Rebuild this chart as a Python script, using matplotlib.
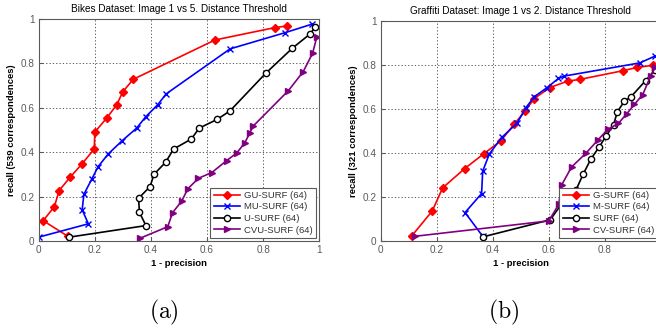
import matplotlib
matplotlib.use("Agg")
import matplotlib.pyplot as plt

plt.rcParams["font.family"] = ["Liberation Sans", "DejaVu Sans"]

# (a) Bikes dataset, image 1 vs 5
bikes_gu_x = [0.105, 0.016, 0.056, 0.073, 0.112, 0.153, 0.198, 0.200, 0.242, 0.278, 0.300, 0.337, 0.628, 0.842, 0.884]
bikes_gu_y = [0.020, 0.091, 0.155, 0.227, 0.287, 0.345, 0.414, 0.490, 0.553, 0.613, 0.672, 0.728, 0.905, 0.961, 0.968]
bikes_mu_x = [0.000, 0.177, 0.155, 0.161, 0.189, 0.212, 0.248, 0.298, 0.349, 0.382, 0.424, 0.454, 0.682, 0.878, 0.973]
bikes_mu_y = [0.017, 0.077, 0.140, 0.210, 0.278, 0.335, 0.392, 0.452, 0.508, 0.560, 0.613, 0.662, 0.865, 0.938, 0.976]
bikes_u_x = [0.109, 0.382, 0.359, 0.356, 0.397, 0.411, 0.452, 0.481, 0.544, 0.572, 0.637, 0.682, 0.809, 0.904, 0.967, 0.985]
bikes_u_y = [0.017, 0.069, 0.129, 0.192, 0.245, 0.300, 0.354, 0.414, 0.459, 0.508, 0.548, 0.586, 0.755, 0.868, 0.932, 0.962]
bikes_cvu_x = [0.361, 0.460, 0.477, 0.510, 0.531, 0.569, 0.617, 0.670, 0.706, 0.735, 0.753, 0.765, 0.890, 0.943, 0.976, 0.991]
bikes_cvu_y = [0.012, 0.064, 0.127, 0.180, 0.234, 0.282, 0.308, 0.362, 0.396, 0.443, 0.488, 0.518, 0.677, 0.763, 0.845, 0.917]

# (b) Graffiti dataset, image 1 vs 2
graf_g_x = [0.111, 0.184, 0.221, 0.300, 0.367, 0.429, 0.476, 0.515, 0.548, 0.604, 0.667, 0.711, 0.863, 0.914, 0.972, 0.995]
graf_g_y = [0.023, 0.136, 0.241, 0.329, 0.395, 0.455, 0.530, 0.590, 0.647, 0.697, 0.726, 0.734, 0.773, 0.788, 0.798, 0.802]
graf_m_x = [0.364, 0.301, 0.360, 0.364, 0.388, 0.432, 0.487, 0.518, 0.548, 0.594, 0.634, 0.655, 0.925, 0.979]
graf_m_y = [0.021, 0.129, 0.215, 0.317, 0.396, 0.470, 0.536, 0.605, 0.655, 0.697, 0.738, 0.749, 0.809, 0.840]
graf_s_x = [0.364, 0.605, 0.645, 0.697, 0.723, 0.750, 0.780, 0.804, 0.831, 0.844, 0.869, 0.893, 0.945, 0.978, 0.995]
graf_s_y = [0.018, 0.096, 0.167, 0.232, 0.305, 0.372, 0.428, 0.476, 0.528, 0.586, 0.634, 0.655, 0.728, 0.776, 0.810]
graf_cv_x = [0.122, 0.600, 0.635, 0.646, 0.681, 0.732, 0.776, 0.810, 0.848, 0.878, 0.905, 0.935, 0.963, 0.980]
graf_cv_y = [0.021, 0.091, 0.166, 0.255, 0.336, 0.398, 0.460, 0.507, 0.534, 0.578, 0.620, 0.665, 0.749, 0.790]

ticks = [0, 0.2, 0.4, 0.6, 0.8, 1]
tick_labels = ["0", "0.2", "0.4", "0.6", "0.8", "1"]

RED, BLUE, BLACK, PURPLE = "#ff0000", "#0000ff", "#000000", "#800080"
GREY = "#5a5a5a"


def draw_panel(ax, series, title, ylabel, xlabels):
    for x, y, color, marker, label in series:
        face = "white" if marker == "o" else color
        ax.plot(x, y, color=color, lw=1.2, marker=marker, ms=4.5,
                mfc=face, mec=color, mew=1.0, label=label)
    ax.set_xlim(0, 1)
    ax.set_ylim(0, 1)
    ax.set_xticks(ticks)
    ax.set_xticklabels(xlabels)
    ax.set_yticks(ticks)
    ax.set_yticklabels(tick_labels)
    ax.grid(True, ls=(0, (1.5, 2.5)), color="#404040", lw=0.6)
    ax.tick_params(direction="in", length=3, labelsize=7.2, colors=GREY, pad=3)
    for s in ax.spines.values():
        s.set_color(GREY)
        s.set_linewidth(0.8)
    ax.set_title(title, fontsize=7.2, pad=5)
    ax.set_xlabel("1 - precision", fontsize=6.8, fontweight="bold", labelpad=3)
    ax.set_ylabel(ylabel, fontsize=6.8, fontweight="bold", labelpad=3)
    leg = ax.legend(loc="lower right", fontsize=6.8, frameon=True, fancybox=False,
                    borderaxespad=0.3, handlelength=2.8, labelspacing=0.28,
                    borderpad=0.35, handletextpad=0.45, framealpha=1)
    leg.get_frame().set_edgecolor(GREY)
    leg.get_frame().set_linewidth(0.8)
    for t in leg.get_texts():
        t.set_color("#333333")


fig = plt.figure(figsize=(6.56, 3.36), dpi=100)
ax1 = fig.add_axes([0.059, 0.283, 0.4277, 0.6607])
ax2 = fig.add_axes([0.5803, 0.283, 0.4273, 0.655])

draw_panel(ax1, [
    (bikes_gu_x, bikes_gu_y, RED, "D", "GU-SURF (64)"),
    (bikes_mu_x, bikes_mu_y, BLUE, "x", "MU-SURF (64)"),
    (bikes_u_x, bikes_u_y, BLACK, "o", "U-SURF (64)"),
    (bikes_cvu_x, bikes_cvu_y, PURPLE, ">", "CVU-SURF (64)"),
], "Bikes Dataset: Image 1 vs 5. Distance Threshold", "recall (539 correspondences)", tick_labels)

# the right panel runs past the figure edge, so its "1" label is not shown
draw_panel(ax2, [
    (graf_g_x, graf_g_y, RED, "D", "G-SURF (64)"),
    (graf_m_x, graf_m_y, BLUE, "x", "M-SURF (64)"),
    (graf_s_x, graf_s_y, BLACK, "o", "SURF (64)"),
    (graf_cv_x, graf_cv_y, PURPLE, ">", "CV-SURF (64)"),
], "Graffiti Dataset: Image 1 vs 2. Distance Threshold", "recall (321 correspondences)", tick_labels[:-1] + [""])

fig.text(0.25, 0.07, r"$\mathrm{(a)}$", math_fontfamily="cm", fontsize=17, ha="center", va="center")
fig.text(0.768, 0.07, r"$\mathrm{(b)}$", math_fontfamily="cm", fontsize=17, ha="center", va="center")

fig.savefig("out.png", dpi=100)
